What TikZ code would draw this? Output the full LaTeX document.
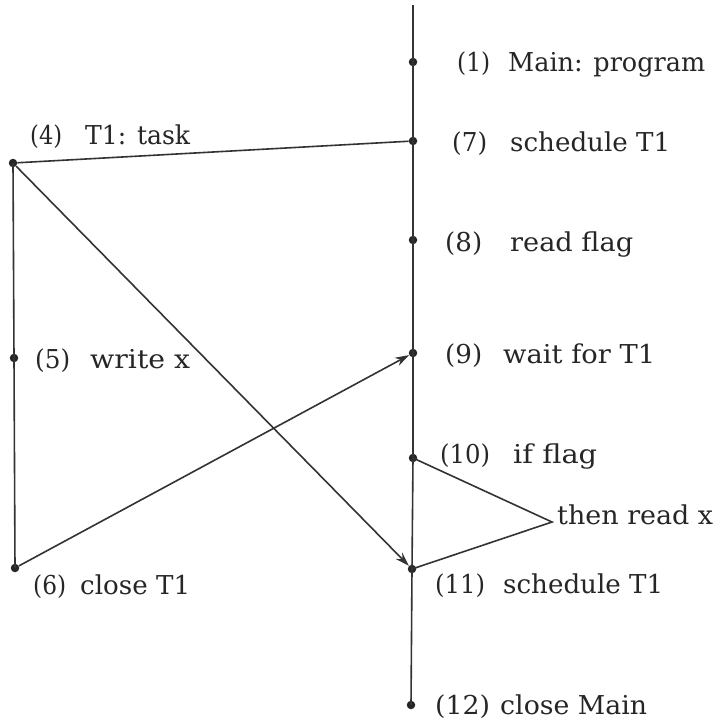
\documentclass[tikz,border=0pt]{standalone}
\usepackage{fontspec}
\usepackage{graphicx}
\setmainfont{DejaVu Serif}
\usetikzlibrary{arrows.meta}
\newsavebox\fitbox
\newlength\fitlen
\newcommand\fitw[2]{\sbox\fitbox{#2}\setlength\fitlen{\wd\fitbox}\pgfmathsetmacro\fitfac{#1/\fitlen}\scalebox{\fitfac}[1]{\usebox\fitbox}}
\begin{document}
\begin{tikzpicture}[x=1pt,y=-1pt,
  dot/.style={circle,fill=black!85,inner sep=0pt,minimum size=8.5pt},
  lbl/.style={anchor=base west,font=\fontsize{26}{30}\selectfont,inner sep=0pt,text=black!85},
  ln/.style={line width=1.6pt,draw=black!80},
  arr/.style={ln,-{Stealth[length=14pt,width=9pt]}}]
\useasboundingbox (0,0) rectangle (727,723);
% main thread
\coordinate (top) at (413,5);
\node[dot] (m1) at (413,62) {};
\node[dot] (m7) at (413,141) {};
\node[dot] (m8) at (413,240) {};
\node[dot] (m9) at (413,353) {};
\node[dot] (m10) at (413,458) {};
\node[dot] (m11) at (412,569) {};
\node[dot] (m12) at (411,705) {};
\draw[ln] (top) -- (m1.center) -- (m7.center) -- (m8.center) -- (m9.center) -- (m10.center) -- (m11.center) -- (m12.center);
% task T1
\node[dot] (t4) at (13,163) {};
\node[dot] (t5) at (14,358) {};
\node[dot] (t6) at (15,568) {};
\draw[ln] (t4.center) -- (t5.center) -- (t6.center);
% connectors
\draw[ln] (t4) -- (m7);
\draw[arr] (t4) -- (m11);
\draw[arr] (t6) -- (m9);
\coordinate (tr) at (552,522);
\draw[ln] (m10.center) -- (tr) -- (m11.center);
% labels: numbers
\node[lbl] (n1) at (457,71) {\fitw{33}{(1)}};
\node[lbl] (n4) at (30,144) {\fitw{32}{(4)}};
\node[lbl] (n7) at (452,151) {\fitw{35}{(7)}};
\node[lbl] (n8) at (445,251) {\fitw{37}{(8)}};
\node[lbl] (n9) at (445,363) {\fitw{37}{(9)}};
\node[lbl] (n10) at (440,463) {\fitw{50}{(10)}};
\node[lbl] (n11) at (435,593) {\fitw{50}{(11)}};
\node[lbl] (n12) at (435,714) {\fitw{55}{(12)}};
\node[lbl] (n5) at (35,368) {\fitw{35}{(5)}};
\node[lbl] (n6) at (33,594) {\fitw{33}{(6)}};
% labels: texts
\node[lbl] (l1) at (508,71) {\fitw{197}{Main: program}};
\node[lbl] (l4) at (85,144) {\fitw{105}{T1: task}};
\node[lbl] (l7) at (510,151) {\fitw{160}{schedule T1}};
\node[lbl] (l8) at (510,251) {\fitw{123}{read flag}};
\node[lbl] (l9) at (503,363) {\fitw{152}{wait for T1}};
\node[lbl] (l10) at (513,463) {\fitw{84}{if flag}};
\node[lbl] (lthen) at (557,524) {\fitw{156}{then read x}};
\node[lbl] (l11) at (503,593) {\fitw{160}{schedule T1}};
\node[lbl] (l12) at (500,714) {\fitw{147}{close Main}};
\node[lbl] (l5) at (90,368) {\fitw{100}{write x}};
\node[lbl] (l6) at (80,594) {\fitw{110}{close T1}};
\end{tikzpicture}
\end{document}
